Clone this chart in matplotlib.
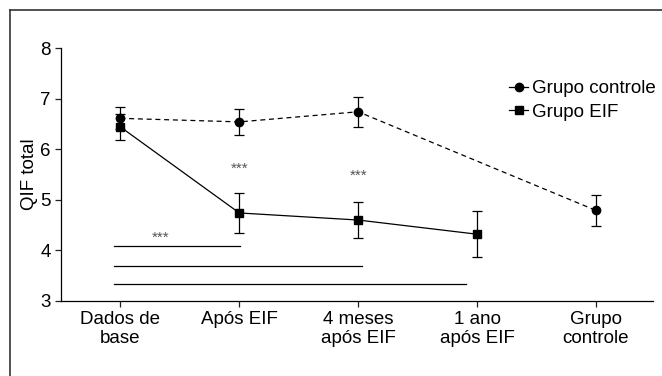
import matplotlib
matplotlib.use("Agg")
import matplotlib.pyplot as plt
from matplotlib.lines import Line2D

plt.rcParams["font.family"] = ["Liberation Sans", "DejaVu Sans"]

# --- datos ---
categorias = ["Dados de\nbase", "Após EIF", "4 meses\napós EIF", "1 ano\napós EIF", "Grupo\ncontrole"]

x_controle = [0, 1, 2, 4]
y_controle = [6.61, 6.54, 6.74, 4.79]
err_controle = [0.22, 0.25, 0.30, 0.30]

x_eif = [0, 1, 2, 3]
y_eif = [6.44, 4.74, 4.60, 4.32]
err_eif = [0.25, 0.39, 0.35, 0.45]

# asteriscos (x, y)
estrelas_x = [1, 2, 0.34]
estrelas_y = [5.62, 5.48, 4.25]

# barras de comparación: inicio, fin, altura
barras_ini = [-0.05, -0.05, -0.05]
barras_fim = [1.01, 2.03, 2.91]
barras_y = [4.09, 3.69, 3.34]

fig = plt.figure(figsize=(6.62, 3.76), dpi=100)
ax = fig.add_axes([0.0921, 0.1995, 0.8943, 0.6728])

ax.errorbar(x_controle, y_controle, yerr=err_controle, color="black", lw=0.9,
            ls=(0, (4, 3)), marker="o", ms=6, capsize=3.5, elinewidth=0.9,
            capthick=0.9, label="Grupo controle")
ax.errorbar(x_eif, y_eif, yerr=err_eif, color="black", lw=0.9, ls="-",
            marker="s", ms=5.5, capsize=3.5, elinewidth=0.9, capthick=0.9,
            label="Grupo EIF")

for xs, ys in zip(estrelas_x, estrelas_y):
    ax.text(xs, ys, "***", ha="center", va="center", fontsize=11, color="#555555")

for x0, x1, yb in zip(barras_ini, barras_fim, barras_y):
    ax.plot([x0, x1], [yb, yb], color="black", lw=0.9)

ax.set_xlim(-0.5, 4.48)
ax.set_ylim(3, 8)
ax.set_xticks(range(len(categorias)))
ax.set_xticklabels(categorias, fontsize=13.5, linespacing=1.1)
ax.set_yticks([3, 4, 5, 6, 7, 8])
ax.tick_params(axis="both", labelsize=13.5, direction="out", length=4, width=0.9,
               colors="black", color="#222222")
ax.set_ylabel("QIF total", fontsize=13.5, labelpad=1.5)
for s in ["top", "right"]:
    ax.spines[s].set_visible(False)
for s in ["left", "bottom"]:
    ax.spines[s].set_linewidth(0.9)

handles = [
    Line2D([], [], color="black", lw=0.9, marker="o", ms=6),
    Line2D([], [], color="black", lw=0.9, marker="s", ms=5.5),
]
ax.legend(handles, ["Grupo controle", "Grupo EIF"], loc="upper left",
          bbox_to_anchor=(0.755, 0.812), bbox_transform=fig.transFigure,
          frameon=False, fontsize=13.5, handlelength=1.0, handletextpad=0.2,
          borderpad=0, labelspacing=0.35)

# marco exterior (solo arriba e izquierda)
fig.add_artist(Line2D([0.015, 0.015], [0, 0.973], transform=fig.transFigure,
                      color="#333333", lw=1.2))
fig.add_artist(Line2D([0.015, 1.0], [0.973, 0.973], transform=fig.transFigure,
                      color="#333333", lw=1.2))

fig.savefig("out.png", dpi=100)
